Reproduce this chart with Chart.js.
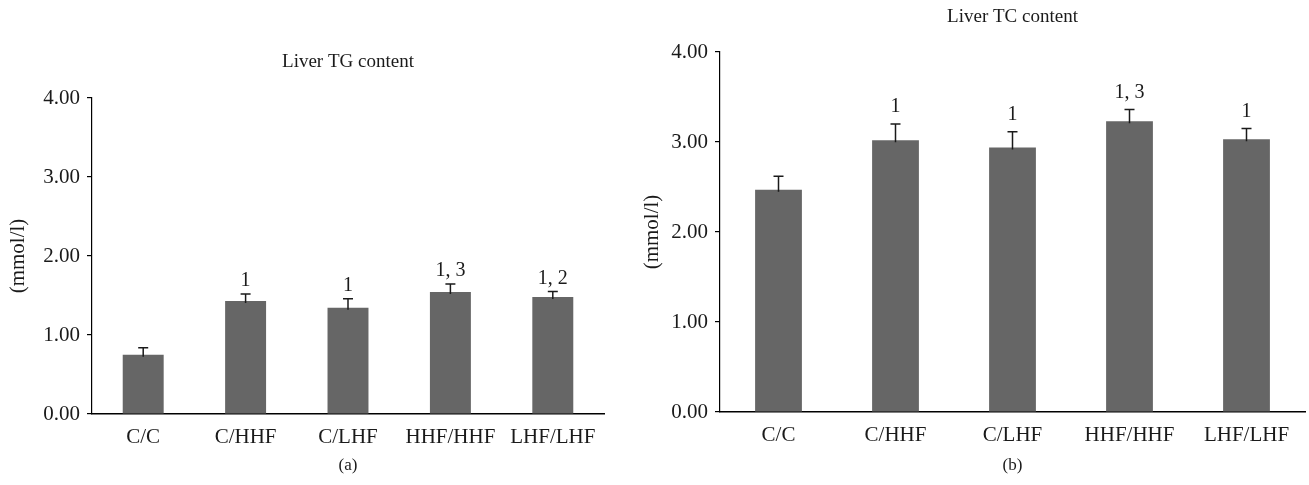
<!DOCTYPE html>
<html>
<head>
<meta charset="utf-8">
<script src="https://cdn.jsdelivr.net/npm/chart.js@4.4.1/dist/chart.umd.min.js"></script>
<style>
  html, body { margin: 0; padding: 0; background: #fff; }
  body { width: 1309px; height: 485px; position: relative; overflow: hidden; }
  .panel { position: absolute; top: 0; height: 485px; }
  #tg { left: 0; width: 640px; }
  #tc { left: 640px; width: 669px; }
</style>
</head>
<body>
<div class="panel" id="tg"><canvas id="tgChart"></canvas></div>
<div class="panel" id="tc"><canvas id="tcChart"></canvas></div>
<script>
const categories = ['C/C', 'C/HHF', 'C/LHF', 'HHF/HHF', 'LHF/LHF'];

// Liver TG content (a)
const tgMeans = [0.75, 1.43, 1.345, 1.545, 1.48];
const tgErrors = [0.09, 0.09, 0.115, 0.10, 0.07];
const tgMarks = ['', '1', '1', '1, 3', '1, 2'];

// Liver TC content (b)
const tcMeans = [2.47, 3.02, 2.94, 3.23, 3.03];
const tcErrors = [0.15, 0.18, 0.175, 0.13, 0.12];
const tcMarks = ['', '1', '1', '1, 3', '1'];

const yTicks = [0, 1, 2, 3, 4];

const FONT = "'Liberation Serif', 'DejaVu Serif', serif";
const BAR_COLOR = '#666666';
const INK = '#1a1a1a';

// draws upper error whiskers, significance marks, title and panel letter
const annotate = {
    id: 'annotate',
    afterDatasetsDraw(chart, args, opts) {
        const ctx = chart.ctx;
        const meta = chart.getDatasetMeta(0);
        const y = chart.scales.y;
        ctx.save();
        ctx.strokeStyle = INK;
        ctx.lineWidth = 1.5;
        meta.data.forEach((bar, i) => {
            const top = y.getPixelForValue(opts.means[i] + opts.errors[i]);
            const base = y.getPixelForValue(opts.means[i]);
            ctx.beginPath();
            ctx.moveTo(bar.x, base + 2);
            ctx.lineTo(bar.x, top);
            ctx.moveTo(bar.x - opts.cap, top);
            ctx.lineTo(bar.x + opts.cap, top);
            ctx.stroke();

            if (opts.marks[i]) {
                ctx.fillStyle = INK;
                ctx.font = '20px ' + FONT;
                ctx.textAlign = 'center';
                ctx.textBaseline = 'middle';
                ctx.fillText(opts.marks[i], bar.x, top - opts.markGap);
            }
        });

        const area = chart.chartArea;
        const cx = (area.left + area.right) / 2;
        ctx.fillStyle = INK;
        ctx.textAlign = 'center';
        ctx.textBaseline = 'middle';
        ctx.font = '19px ' + FONT;
        ctx.fillText(opts.title, cx, opts.titleY);
        ctx.font = '17px ' + FONT;
        ctx.fillText(opts.letter, cx, 466);
        ctx.restore();
    }
};

function makeChart(canvasId, means, errors, marks, cfg) {
    return new Chart(document.getElementById(canvasId), {
        type: 'bar',
        data: {
            labels: categories,
            datasets: [{
                data: means,
                backgroundColor: BAR_COLOR,
                borderWidth: 0,
                categoryPercentage: 1,
                barPercentage: 0.4
            }]
        },
        options: {
            responsive: true,
            maintainAspectRatio: false,
            animation: false,
            layout: {
                padding: cfg.padding
            },
            plugins: {
                legend: {display: false},
                tooltip: {enabled: false},
                annotate: {
                    means: means,
                    errors: errors,
                    marks: marks,
                    cap: 5,
                    markGap: cfg.markGap,
                    title: cfg.title,
                    titleY: cfg.titleY,
                    letter: cfg.letter
                }
            },
            scales: {
                x: {
                    grid: {display: false, drawTicks: false},
                    border: {display: true, color: '#000', width: 1.5},
                    ticks: {
                        color: INK,
                        padding: 11,
                        font: {family: FONT, size: 21}
                    },
                    afterFit: (scale) => { scale.height = 40; }
                },
                y: {
                    min: 0,
                    max: 4,
                    afterBuildTicks: (scale) => {
                        scale.ticks = yTicks.map(v => ({value: v}));
                    },
                    grid: {
                        display: true,
                        drawOnChartArea: false,
                        drawTicks: true,
                        tickLength: 5,
                        color: '#000',
                        lineWidth: 1.2
                    },
                    border: {display: true, color: '#000', width: 1.2},
                    ticks: {
                        color: INK,
                        padding: 7,
                        font: {family: FONT, size: 21}
                    ,
                        callback: (v) => Number(v).toFixed(2)
                    },
                    title: {
                        display: true,
                        text: '(mmol/l)',
                        color: INK,
                        padding: {top: cfg.yTitlePad, bottom: 0},
                        font: {family: FONT, size: 21}
                    },
                    afterFit: (scale) => { scale.width = cfg.yWidth; }
                }
            }
        },
        plugins: [annotate]
    });
}

makeChart('tgChart', tgMeans, tgErrors, tgMarks, {
    padding: {left: 0, top: 98, right: 36, bottom: 31},
    yWidth: 92,
    yTitlePad: 6,
    markGap: 13,
    title: 'Liver TG content',
    titleY: 62,
    letter: '(a)'
});

makeChart('tcChart', tcMeans, tcErrors, tcMarks, {
    padding: {left: 0, top: 52, right: 4, bottom: 33},
    yWidth: 80,
    yTitlePad: 0,
    markGap: 17,
    title: 'Liver TC content',
    titleY: 17,
    letter: '(b)'
});
</script>
</body>
</html>
